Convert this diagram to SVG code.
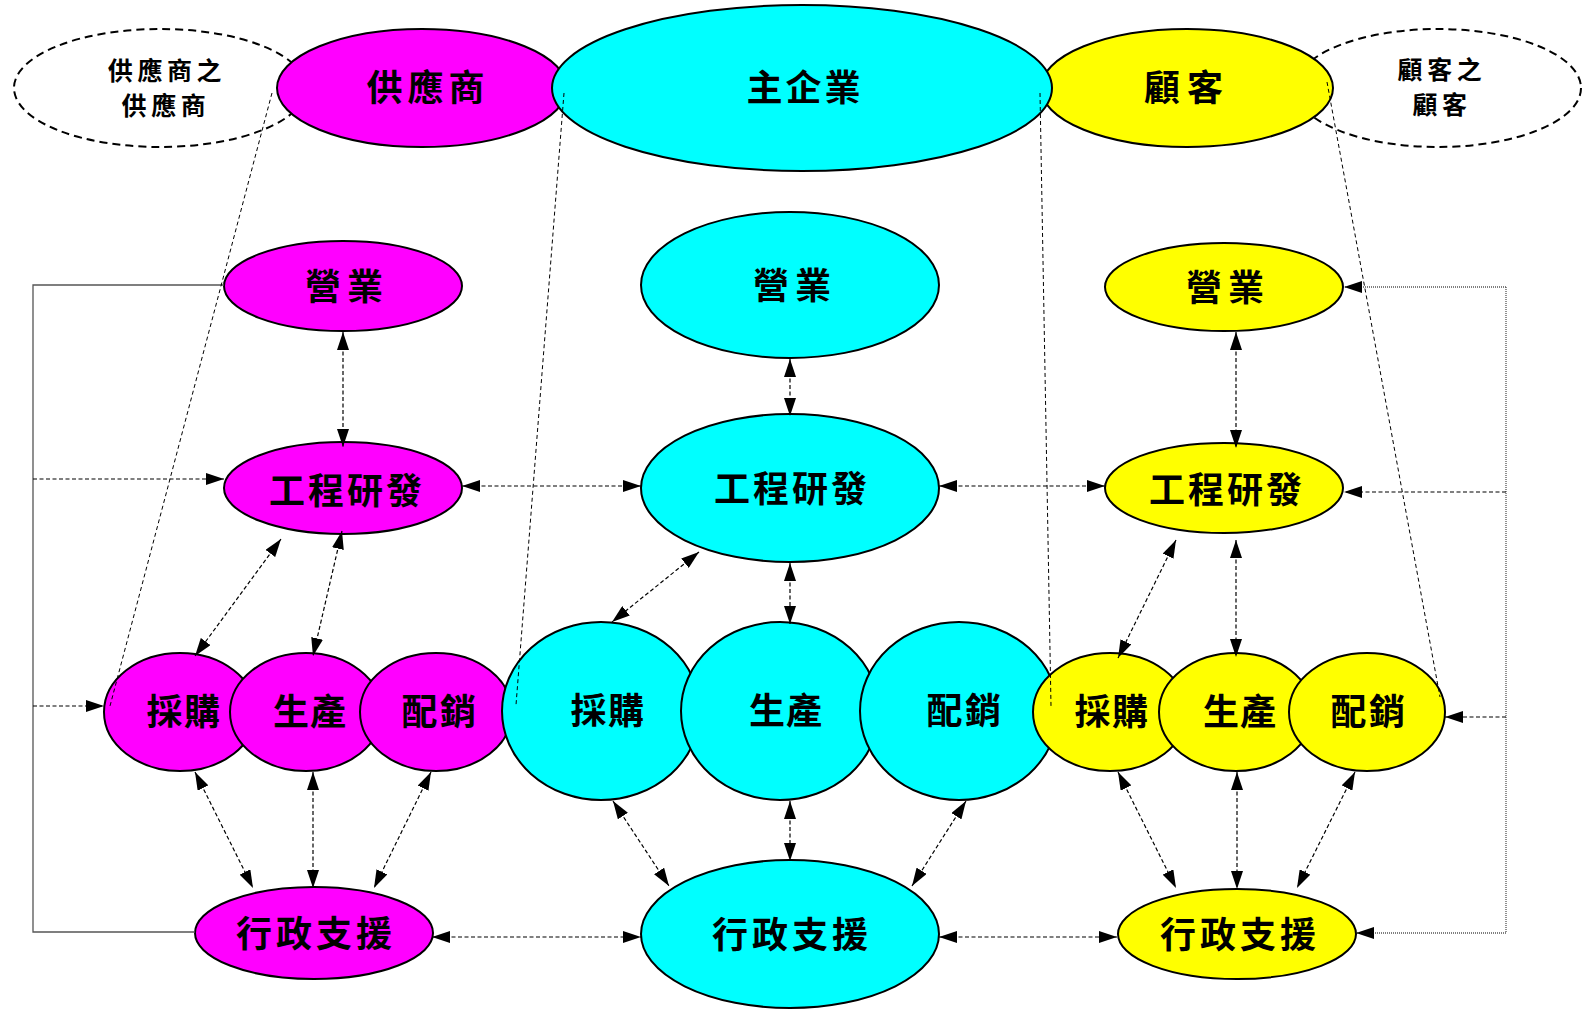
<svg xmlns="http://www.w3.org/2000/svg" width="1583" height="1010" viewBox="0 0 1583 1010">
<defs>
<marker id="ah" viewBox="0 0 18 12" refX="18" refY="6" markerWidth="18" markerHeight="12" markerUnits="userSpaceOnUse" orient="auto-start-reverse">
<path d="M0,0 L18,6 L0,12 Z" fill="#000"/>
</marker>
<style>
.m{fill:#FF00FF;stroke:#000;stroke-width:2}
.c{fill:#00FFFF;stroke:#000;stroke-width:2}
.y{fill:#FFFF00;stroke:#000;stroke-width:2}
.d{fill:#fff;stroke:#000;stroke-width:2;stroke-dasharray:8 5}
text{font-family:"Noto Sans CJK TC","Noto Sans CJK SC",sans-serif;font-weight:700;fill:#000;text-anchor:middle}
.t{font-size:36px}
.s{font-size:25px;letter-spacing:4.6px}
.a{fill:none;stroke:#000;stroke-width:1.2;stroke-dasharray:4 2.5;marker-start:url(#ah);marker-end:url(#ah)}
.a1{fill:none;stroke:#000;stroke-width:1.2;stroke-dasharray:4 2.5;marker-end:url(#ah)}
.p{fill:none;stroke:#000;stroke-width:1;stroke-dasharray:4 3}
.g{fill:none;stroke:#555;stroke-width:1.3}
.o{fill:none;stroke:#555;stroke-width:1.3;stroke-dasharray:1 1}
.o1{fill:none;stroke:#555;stroke-width:1.3;stroke-dasharray:1 1;marker-end:url(#ah)}
</style>
</defs>
<rect width="1583" height="1010" fill="#fff"/>

<g id="supplier-of-supplier"><ellipse class="d" cx="160" cy="88" rx="146" ry="59"/><text class="s" x="167" y="80">供應商之</text><text class="s" x="166" y="115">供應商</text></g>
<g id="customer-of-customer"><ellipse class="d" cx="1438" cy="88" rx="143" ry="59"/><text class="s" x="1442" y="79">顧客之</text><text class="s" x="1442" y="114">顧客</text></g>
<g id="supplier"><ellipse class="m" cx="422" cy="88" rx="145" ry="59"/><text class="t" style="letter-spacing:5px" x="428" y="101">供應商</text></g>
<g id="customer"><ellipse class="y" cx="1187" cy="88" rx="146" ry="59"/><text class="t" style="letter-spacing:7px" x="1187" y="101">顧客</text></g>
<g id="main-enterprise"><ellipse class="c" cx="802" cy="88" rx="250" ry="83"/><text class="t" style="letter-spacing:3px" x="805" y="101">主企業</text></g>

<g id="m-sales"><ellipse class="m" cx="343" cy="286" rx="119" ry="45"/><text class="t" style="letter-spacing:6px" x="347" y="300">營業</text></g>
<g id="c-sales"><ellipse class="c" cx="790" cy="285" rx="149" ry="73"/><text class="t" style="letter-spacing:6px" x="795" y="299">營業</text></g>
<g id="y-sales"><ellipse class="y" cx="1224" cy="287" rx="119" ry="44"/><text class="t" style="letter-spacing:6px" x="1228" y="301">營業</text></g>

<g id="m-rd"><ellipse class="m" cx="343" cy="488" rx="119" ry="46"/><text class="t" style="letter-spacing:3px" x="347" y="504">工程研發</text></g>
<g id="c-rd"><ellipse class="c" cx="790" cy="488" rx="149" ry="74"/><text class="t" style="letter-spacing:3px" x="792" y="502">工程研發</text></g>
<g id="y-rd"><ellipse class="y" cx="1224" cy="488" rx="119" ry="45"/><text class="t" style="letter-spacing:3px" x="1227" y="503">工程研發</text></g>

<g id="m-purchase"><ellipse class="m" cx="180" cy="712" rx="76" ry="59"/><text class="t" style="letter-spacing:1.5px" x="184" y="725">採購</text></g>
<g id="m-production"><ellipse class="m" cx="306" cy="712" rx="76" ry="59"/><text class="t" style="letter-spacing:1px" x="310" y="725">生產</text></g>
<g id="m-distribution"><ellipse class="m" cx="436" cy="712" rx="76" ry="59"/><text class="t" style="letter-spacing:2.5px" x="440" y="725">配銷</text></g>
<g id="c-purchase"><ellipse class="c" cx="601" cy="711" rx="99" ry="89"/><text class="t" style="letter-spacing:1.5px" x="608" y="724">採購</text></g>
<g id="c-production"><ellipse class="c" cx="780" cy="711" rx="99" ry="89"/><text class="t" style="letter-spacing:1px" x="786" y="724">生產</text></g>
<g id="c-distribution"><ellipse class="c" cx="959" cy="711" rx="99" ry="89"/><text class="t" style="letter-spacing:2.5px" x="965" y="724">配銷</text></g>
<g id="y-purchase"><ellipse class="y" cx="1110" cy="712" rx="77" ry="59"/><text class="t" style="letter-spacing:1.5px" x="1112" y="725">採購</text></g>
<g id="y-production"><ellipse class="y" cx="1236" cy="712" rx="77" ry="59"/><text class="t" style="letter-spacing:1px" x="1240" y="725">生產</text></g>
<g id="y-distribution"><ellipse class="y" cx="1367" cy="712" rx="78" ry="59"/><text class="t" style="letter-spacing:2.5px" x="1369" y="725">配銷</text></g>

<g id="m-admin"><ellipse class="m" cx="314" cy="933" rx="119" ry="46"/><text class="t" style="letter-spacing:4px" x="316" y="947">行政支援</text></g>
<g id="c-admin"><ellipse class="c" cx="790" cy="934" rx="149" ry="74"/><text class="t" style="letter-spacing:4px" x="792" y="948">行政支援</text></g>
<g id="y-admin"><ellipse class="y" cx="1237" cy="934" rx="119" ry="45"/><text class="t" style="letter-spacing:4px" x="1240" y="948">行政支援</text></g>

<g id="connectors">
<path class="g" d="M224,285 H33 V932 H195"/>
<path class="a1" d="M33,479 H224"/>
<path class="a1" d="M33,706 H104"/>
<path class="o" d="M1506,287 V933"/>
<path class="o1" d="M1506,287 H1344"/>
<path class="o1" d="M1506,933 H1356"/>
<path class="a1" d="M1506,492 H1344"/>
<path class="a1" d="M1506,717 H1445"/>

<path class="a" d="M462,486 H641"/>
<path class="a" d="M939,486 H1105"/>
<path class="a" d="M432,937 H641"/>
<path class="a" d="M939,937 H1117"/>

<path class="a" d="M343,332 V447"/>
<path class="a" d="M790,359 V416"/>
<path class="a" d="M1236,332 V448"/>

<path class="a" d="M281,539 L195,656"/>
<path class="a" d="M342,531 L313,656"/>
<path class="a" d="M699,552 L612,622"/>
<path class="a" d="M790,563 V624"/>
<path class="a" d="M1176,540 L1118,658"/>
<path class="a" d="M1236,540 V657"/>

<path class="a" d="M195,772 L253,888"/>
<path class="a" d="M313,772 V888"/>
<path class="a" d="M431,772 L374,888"/>
<path class="a" d="M613,801 L669,886"/>
<path class="a" d="M790,801 V861"/>
<path class="a" d="M966,801 L912,886"/>
<path class="a" d="M1118,772 L1176,888"/>
<path class="a" d="M1237,772 V889"/>
<path class="a" d="M1355,772 L1297,888"/>

<path class="p" d="M272,93 L110,706"/>
<path class="p" d="M564,93 L516,705"/>
<path class="p" d="M1040,93 L1051,706"/>
<path class="p" d="M1327,82 L1440,697"/>
</g>
</svg>
